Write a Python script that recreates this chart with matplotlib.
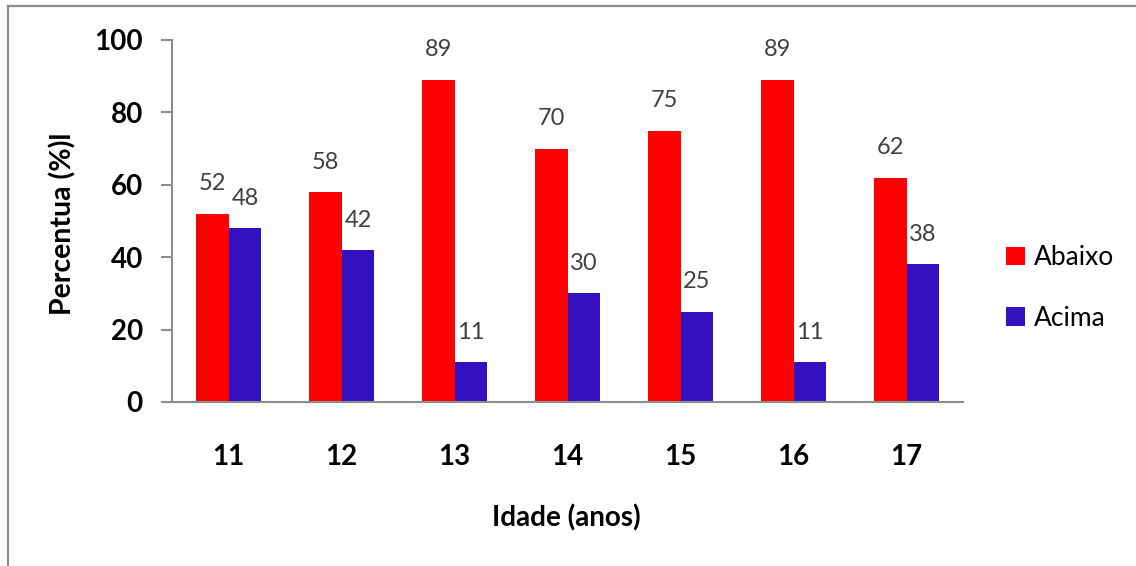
import matplotlib
matplotlib.use("Agg")
import matplotlib.pyplot as plt
from matplotlib.lines import Line2D
import numpy as np

# Idade (anos) e percentagens por grupo
idades = ["11", "12", "13", "14", "15", "16", "17"]
abaixo = [52, 58, 89, 70, 75, 89, 62]
acima = [48, 42, 11, 30, 25, 11, 38]
series_names = ["Abaixo", "Acima"]
y_ticks = [0, 20, 40, 60, 80, 100]

RED = "#FF0000"
BLUE = "#3311C1"
GRAY = "#8C8C8C"
LABEL = "#404040"

plt.rcParams["font.family"] = ["Lato", "DejaVu Sans"]

fig = plt.figure(figsize=(11.36, 5.66), dpi=100)
fig.patch.set_facecolor("white")
ax = fig.add_axes([172 / 1136, 1 - 402 / 566, (963 - 172) / 1136, (402 - 40) / 566])

x = np.arange(len(idades))
w = 0.29
b1 = ax.bar(x - w / 2, abaixo, w, color=RED, label=series_names[0])
b2 = ax.bar(x + w / 2, acima, w, color=BLUE, label=series_names[1])

for bars, vals in ((b1, abaixo), (b2, acima)):
    for rect, v in zip(bars, vals):
        ax.annotate(f"{v}", (rect.get_x() + rect.get_width() / 2, v),
                    xytext=(0, 14), textcoords="offset points",
                    ha="center", va="bottom", fontsize=17, color=LABEL)

ax.set_xlim(-0.5, len(idades) - 0.5)
ax.set_ylim(0, 100)
ax.set_yticks(y_ticks)
ax.set_yticklabels([str(t) for t in y_ticks], fontsize=20, fontweight="bold")
ax.set_xticks(x)
ax.set_xticklabels(idades, fontsize=20, fontweight="bold")

for s in ("top", "right"):
    ax.spines[s].set_visible(False)
for s in ("left", "bottom"):
    ax.spines[s].set_color(GRAY)
    ax.spines[s].set_linewidth(1.5)

ax.tick_params(axis="y", direction="out", length=8, width=1.5, color=GRAY, pad=13)
ax.tick_params(axis="x", length=0, pad=30)

fig.text(63 / 1136, 1 - 224 / 566, "Percentua (%)l", rotation=90, ha="center",
         va="center", fontsize=20.5, fontweight="bold")
fig.text(566 / 1136, 1 - 518 / 566, "Idade (anos)", ha="center", va="center",
         fontsize=20, fontweight="bold")

leg = ax.legend(loc="center left", bbox_to_anchor=(995 / 1136, 1 - 288 / 566),
                bbox_transform=fig.transFigure, frameon=False, fontsize=19,
                handlelength=0.72, handleheight=0.72, handletextpad=0.35,
                labelspacing=1.35, borderaxespad=0)

# moldura do gráfico
yb = 1 - 6 / 566
xb = 8 / 1136
fig.add_artist(Line2D([xb, xb], [0, yb], color=GRAY, lw=1.6, transform=fig.transFigure))
fig.add_artist(Line2D([xb, 1], [yb, yb], color=GRAY, lw=1.6, transform=fig.transFigure))

fig.savefig("out.png", dpi=100, facecolor="white")
